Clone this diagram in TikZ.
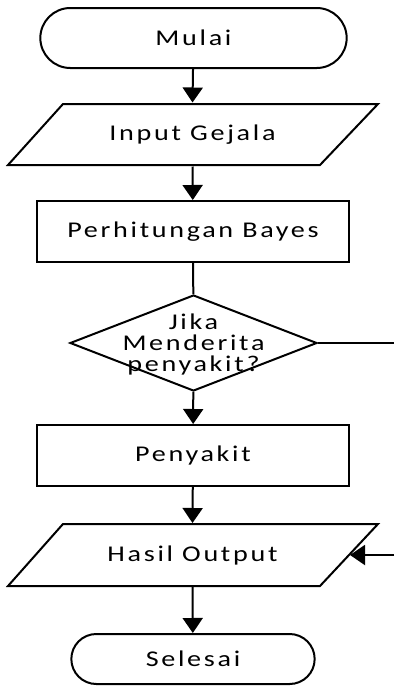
\documentclass[tikz,border=0pt]{standalone}
\usepackage{fontspec}
\setmainfont{Carlito}[FakeStretch=1.25,LetterSpace=12]
\usetikzlibrary{arrows.meta,shapes.misc,shapes.geometric}
\begin{document}
\begin{tikzpicture}[x=1pt,y=-1pt,
  line width=2pt,
  lbl/.style={font=\fontsize{22.5}{21}\selectfont},
  term/.style={draw,rounded rectangle,lbl},
  proc/.style={draw,rectangle,minimum width=312pt,minimum height=61pt,lbl},
  io/.style={rectangle,minimum width=313pt,minimum height=62pt,lbl},
  arr/.style={-{Triangle[length=15pt,width=20pt]}}]
\useasboundingbox (0,0) rectangle (394,686);
\node[term,minimum width=313pt,minimum height=60pt] (mulai) at (193.5,38) {Mulai};
\draw (63,104) -- (378,104) -- (320,165) -- (8,165) -- cycle;
\node[io] (input) at (192.5,134.5) {Input Gejala};
\node[proc] (bayes) at (193,231.5) {Perhitungan Bayes};
\node[draw,diamond,minimum width=247pt,minimum height=96pt,inner sep=0pt] (cek) at (193.5,343) {};
\node[lbl,align=center] (cektext) at (193.5,344) {Jika\\Menderita\\penyakit?};
\node[proc] (penyakit) at (193,455.5) {Penyakit};
\draw (63,524) -- (378,524) -- (320,586) -- (8,586) -- cycle;
\node[io] (hasil) at (192.5,555) {Hasil Output};
\node[term,minimum width=250pt,minimum height=50pt] (selesai) at (193,659) {Selesai};
\coordinate (r1) at (394,343);
\coordinate (r2) at (394,555);
\draw[arr] (mulai) -- (input.north);
\draw[arr] (input.south) -- (bayes);
\draw (bayes) -- (cek);
\draw[arr] (cek) -- (penyakit);
\draw[arr] (penyakit) -- (hasil.north);
\draw[arr] (hasil.south) -- (selesai);
\draw (cek.east) -- (r1);
\draw[arr] (r2) -- (hasil.east);
\end{tikzpicture}
\end{document}
